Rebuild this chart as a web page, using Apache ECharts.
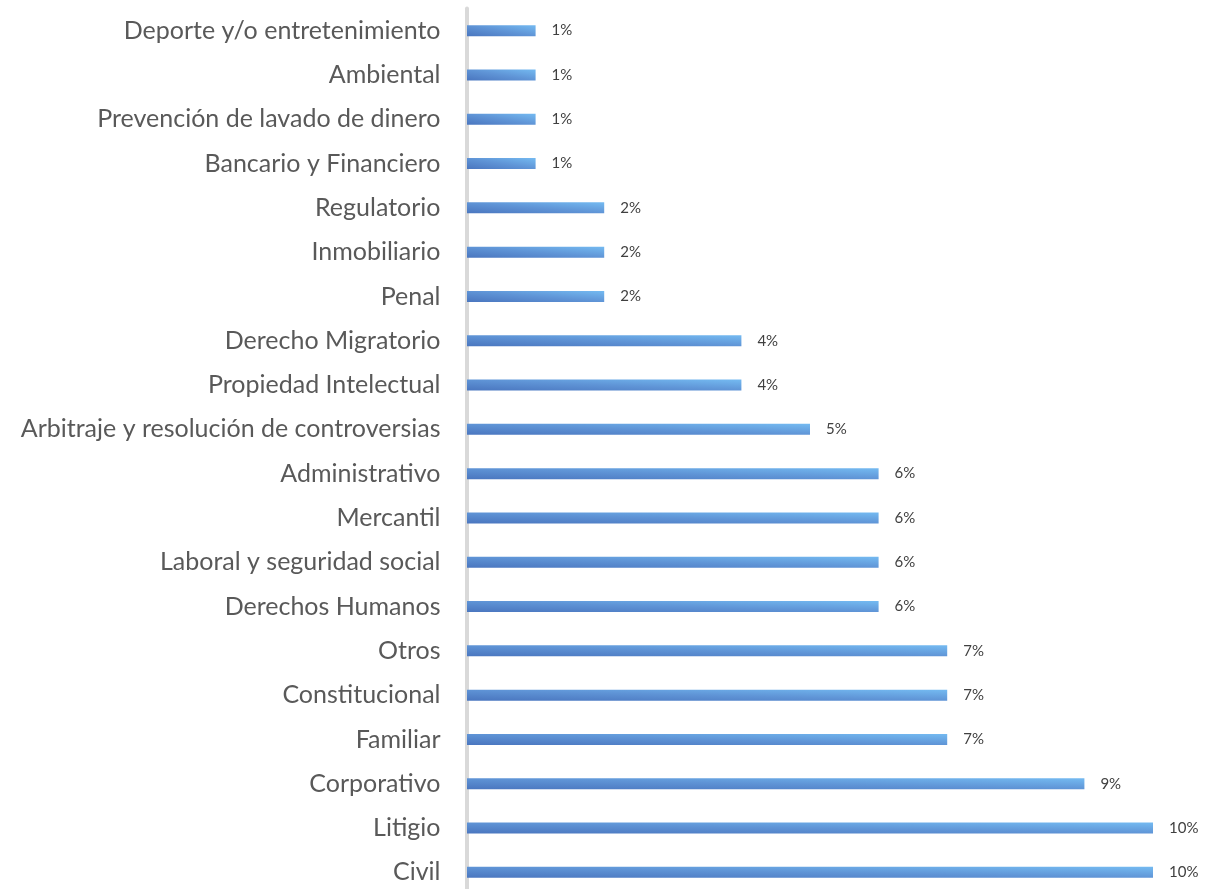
<!DOCTYPE html>
<html><head><meta charset="utf-8">
<script src="https://cdn.jsdelivr.net/npm/echarts@6/dist/echarts.min.js"></script>
<style>html,body{margin:0;padding:0;background:#fff}#c{width:1206px;height:889px}</style>
</head><body><div id="c"></div>
<script>
const categories = ["Civil","Litigio","Corporativo","Familiar","Constitucional","Otros","Derechos Humanos","Laboral y seguridad social","Mercantil","Administrativo","Arbitraje y resolución de controversias","Propiedad Intelectual","Derecho Migratorio","Penal","Inmobiliario","Regulatorio","Bancario y Financiero","Prevención de lavado de dinero","Ambiental","Deporte y/o entretenimiento"];
const values = [10,10,9,7,7,7,6,6,6,6,5,4,4,2,2,2,1,1,1,1];

const GRID_W = 686, X_MAX = 10, BAR_H = 11;
// Excel-like "scaled" diagonal gradient: t = (u + 1 - v)/2 in bar-local coordinates
function barGradient(v) {
  const w = Math.max(1, v / X_MAX * GRID_W), h = BAR_H;
  const S = 1 / (w * w) + 1 / (h * h);
  const x2 = 2 / (w * w * S), y2 = 1 - 2 / (h * h * S);
  return new echarts.graphic.LinearGradient(0, 1, x2, y2, [
    {offset: 0, color: '#4a76bf'},
    {offset: 0.5, color: '#5f94d6'},
    {offset: 1, color: '#74baf1'}
  ]);
}

const chart = echarts.init(document.getElementById('c'));
chart.setOption({
  animation: false,
  grid: {left: 467, top: 8.5, height: 886, width: GRID_W, containLabel: false, outerBoundsMode: 'none'},
  xAxis: {type: 'value', min: 0, max: X_MAX, show: false},
  yAxis: {type: 'category', data: categories, offset: 2.5,
    axisLine: {show: true, lineStyle: {color: '#d9d9d9', width: 4}},
    axisTick: {show: false},
    axisLabel: {color: '#595959', fontSize: 25, fontFamily: 'Lato', margin: 24}
  },
  series: [{type: 'bar', barWidth: BAR_H,
    data: values.map(v => ({value: v, itemStyle: {color: barGradient(v)}})),
    label: {show: true, position: 'right', distance: 16, color: '#404040', fontSize: 15, fontFamily: 'Lato', formatter: p => p.value + '%'}
  }]
});
</script></body></html>
